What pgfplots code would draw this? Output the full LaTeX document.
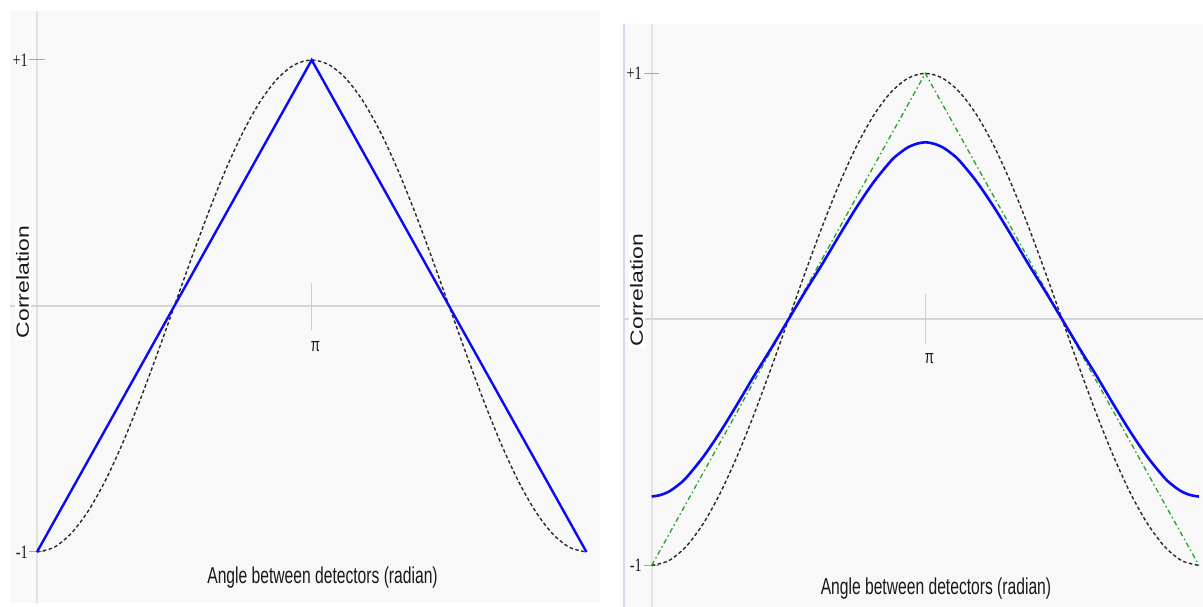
\documentclass[border=0pt]{standalone}
\usepackage{fontspec}
\usepackage{graphicx}
\usepackage{pgfplots}
\pgfplotsset{compat=1.18}
\setmainfont{Liberation Sans}
\newfontfamily\labfont[FakeStretch=0.68]{Liberation Sans}
\newfontfamily\tickfont[FakeStretch=0.75]{Liberation Serif}
\newfontfamily\pifont[FakeStretch=0.7]{Liberation Sans}
\definecolor{bgc}{RGB}{248,248,248}
\definecolor{axc}{RGB}{226,226,226}
\definecolor{zeroc}{RGB}{214,214,214}
\definecolor{tickc}{RGB}{170,170,170}
\definecolor{pitickc}{RGB}{205,205,205}
\definecolor{lav}{RGB}{215,215,245}
\definecolor{bluec}{RGB}{10,10,245}
\definecolor{greenc}{RGB}{40,160,40}
\definecolor{dkc}{RGB}{40,40,40}
\definecolor{txtc}{RGB}{25,25,25}
\begin{document}
\begin{tikzpicture}
\path[use as bounding box] (0,0) rectangle (1203pt,607pt);
% left panel
\begin{axis}[
  at={(10pt,4pt)}, anchor=south west,
  scale only axis, width=590pt, height=592pt,
  xmin=-0.3087, xmax=6.438, ymin=-1.2073, ymax=1.1992,
  axis line style={draw=none}, xtick=\empty, ytick=\empty,
  axis background/.style={fill=bgc},
  clip=false,
]
\draw[axc, line width=2pt] (axis cs:0,-1.2073) -- (axis cs:0,1.1992);
\draw[zeroc, line width=2pt] (axis cs:-0.3087,0) -- (axis cs:6.438,0);
\draw[tickc, line width=1pt] (axis cs:-0.0915,1) -- (axis cs:0.0915,1);
\draw[tickc, line width=1pt] (axis cs:-0.0915,-1) -- (axis cs:0.0915,-1);
\draw[pitickc, line width=1.5pt] (axis cs:3.14159,0.0935) -- (axis cs:3.14159,-0.0976);
\node[anchor=base, text=txtc, inner sep=0pt] at (axis cs:3.185,-0.187) {\pifont\fontsize{19}{21}\selectfont π};
\node[anchor=east, text=txtc, inner sep=0pt] at (axis cs:-0.103,1) {\tickfont\fontsize{19}{21}\selectfont +1};
\node[anchor=east, text=txtc, inner sep=0pt] at (axis cs:-0.103,-1) {\tickfont\fontsize{19}{21}\selectfont -1};
\node[anchor=base, text=txtc, inner sep=0pt] at (axis cs:3.265,-1.130) {\labfont\fontsize{23}{26}\selectfont Angle between detectors (radian)};
\node[rotate=90, anchor=base, fill=white, inner sep=1.5pt, text=txtc] at (axis cs:-0.0915,0.0976) {\scalebox{1}[0.77]{\fontsize{23}{26}\selectfont Correlation}};
\addplot[dkc, line width=1.4pt, dash pattern=on 3.5pt off 2.5pt, smooth] coordinates {
(0,-1) (0.19635,-0.98079) (0.39270,-0.92388) (0.58905,-0.83147) (0.78540,-0.70711)
(0.98175,-0.55557) (1.17810,-0.38268) (1.37445,-0.19509) (1.57080,0) (1.76715,0.19509)
(1.96350,0.38268) (2.15984,0.55557) (2.35619,0.70711) (2.55254,0.83147) (2.74889,0.92388)
(2.94524,0.98079) (3.14159,1) (3.33794,0.98079) (3.53429,0.92388) (3.73064,0.83147)
(3.92699,0.70711) (4.12334,0.55557) (4.31969,0.38268) (4.51604,0.19509) (4.71239,0)
(4.90874,-0.19509) (5.10509,-0.38268) (5.30144,-0.55557) (5.49779,-0.70711) (5.69414,-0.83147)
(5.89049,-0.92388) (6.08684,-0.98079) (6.28319,-1)};
\addplot[bluec, line width=2.4pt] coordinates {(0,-1) (3.14159,1) (6.28319,-1)};
\end{axis}
% right panel
\begin{axis}[
  at={(624pt,0pt)}, anchor=south west,
  scale only axis, width=579pt, height=583pt,
  xmin=-0.318, xmax=6.330, ymin=-1.169, ymax=1.2008,
  axis line style={draw=none}, xtick=\empty, ytick=\empty,
  axis background/.style={fill=bgc},
  clip=false,
]
\draw[lav, line width=1.5pt] (axis cs:-0.318,-1.169) -- (axis cs:-0.318,1.2008);
\draw[axc, line width=2pt] (axis cs:0,-1.169) -- (axis cs:0,1.2008);
\draw[zeroc, line width=2pt] (axis cs:-0.318,0) -- (axis cs:6.330,0);
\draw[tickc, line width=1pt] (axis cs:-0.088,1) -- (axis cs:0.084,1);
\draw[tickc, line width=1pt] (axis cs:-0.088,-1) -- (axis cs:0.084,-1);
\draw[pitickc, line width=1.5pt] (axis cs:3.14159,0.103) -- (axis cs:3.14159,-0.10);
\node[anchor=base, text=txtc, inner sep=0pt] at (axis cs:3.19,-0.181) {\pifont\fontsize{19}{21}\selectfont π};
\node[anchor=east, text=txtc, inner sep=0pt] at (axis cs:-0.111,1) {\tickfont\fontsize{19}{21}\selectfont +1};
\node[anchor=east, text=txtc, inner sep=0pt] at (axis cs:-0.111,-1) {\tickfont\fontsize{19}{21}\selectfont -1};
\node[anchor=base, text=txtc, inner sep=0pt] at (axis cs:3.264,-1.118) {\labfont\fontsize{23}{26}\selectfont Angle between detectors (radian)};
\node[rotate=90, anchor=base, fill=white, inner sep=1.5pt, text=txtc] at (axis cs:-0.100,0.1195) {\scalebox{1}[0.77]{\fontsize{23}{26}\selectfont Correlation}};
\addplot[dkc, line width=1.4pt, dash pattern=on 3.5pt off 2.5pt, smooth] coordinates {
(0,-1) (0.19635,-0.98079) (0.39270,-0.92388) (0.58905,-0.83147) (0.78540,-0.70711)
(0.98175,-0.55557) (1.17810,-0.38268) (1.37445,-0.19509) (1.57080,0) (1.76715,0.19509)
(1.96350,0.38268) (2.15984,0.55557) (2.35619,0.70711) (2.55254,0.83147) (2.74889,0.92388)
(2.94524,0.98079) (3.14159,1) (3.33794,0.98079) (3.53429,0.92388) (3.73064,0.83147)
(3.92699,0.70711) (4.12334,0.55557) (4.31969,0.38268) (4.51604,0.19509) (4.71239,0)
(4.90874,-0.19509) (5.10509,-0.38268) (5.30144,-0.55557) (5.49779,-0.70711) (5.69414,-0.83147)
(5.89049,-0.92388) (6.08684,-0.98079) (6.28319,-1)};
\addplot[greenc, line width=1.3pt, dash pattern=on 5pt off 3pt on 1.5pt off 3pt] coordinates {(0,-1) (3.14159,1) (6.28319,-1)};
\addplot[bluec, line width=2.6pt, smooth] coordinates {
(0,-0.720) (0.09817,-0.714) (0.19635,-0.700) (0.29452,-0.676) (0.39270,-0.645) (0.58905,-0.560) (0.78540,-0.458)
(0.98175,-0.345) (1.17810,-0.228) (1.37445,-0.116) (1.57080,0) (1.76715,0.116)
(1.96350,0.228) (2.15984,0.345) (2.35619,0.458) (2.55254,0.560) (2.74889,0.645) (2.84707,0.676)
(2.94524,0.700) (3.04342,0.714) (3.14159,0.720) (3.23977,0.714) (3.33794,0.700) (3.43612,0.676) (3.53429,0.645) (3.73064,0.560)
(3.92699,0.458) (4.12334,0.345) (4.31969,0.228) (4.51604,0.116) (4.71239,0)
(4.90874,-0.116) (5.10509,-0.228) (5.30144,-0.345) (5.49779,-0.458) (5.69414,-0.560)
(5.89049,-0.645) (5.98867,-0.676) (6.08684,-0.700) (6.18502,-0.714) (6.28319,-0.720)};
\end{axis}
\end{tikzpicture}
\end{document}
